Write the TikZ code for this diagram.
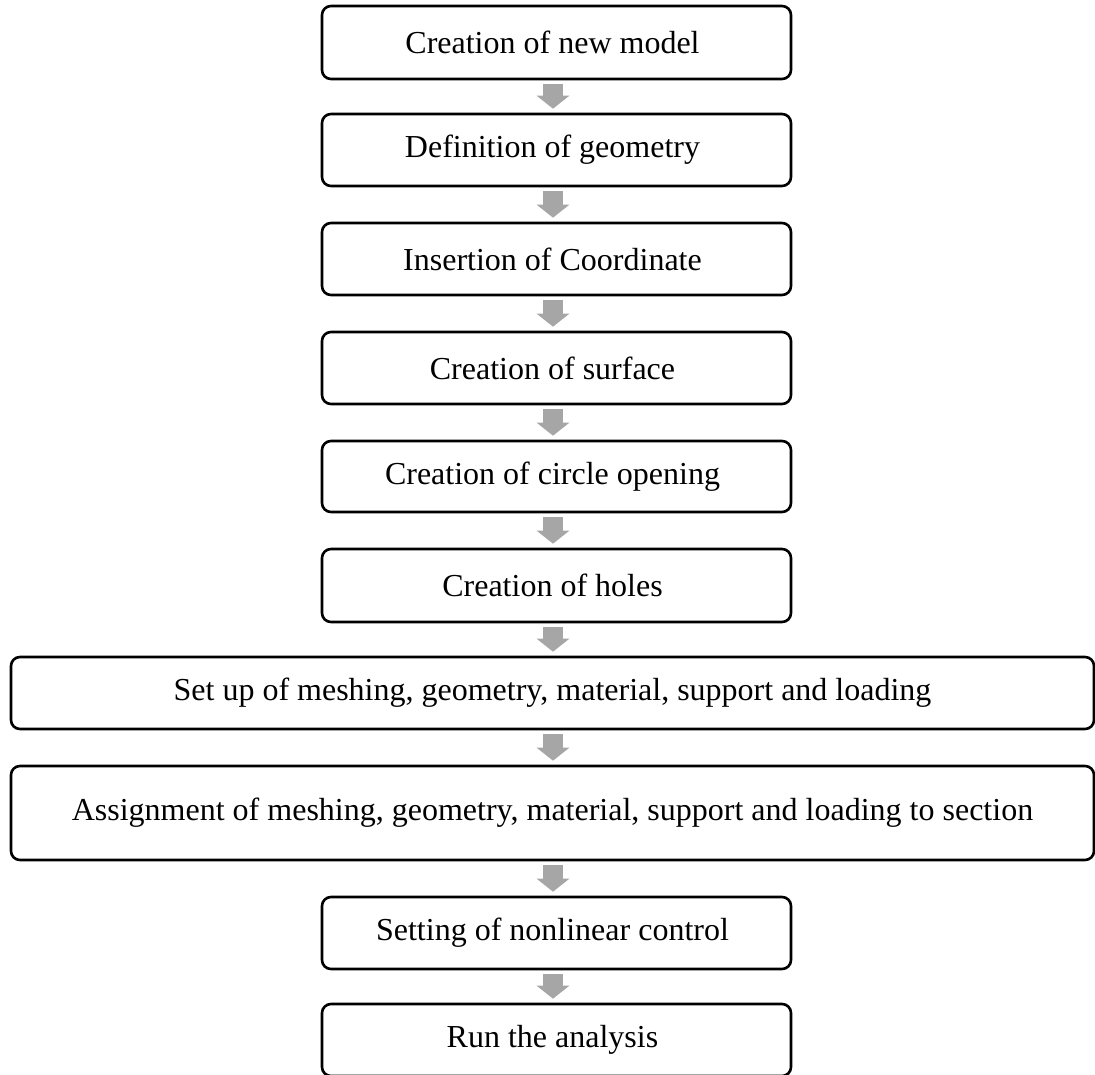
\documentclass[tikz,border=0pt]{standalone}
\usepackage{fontspec}
\setmainfont{Liberation Serif}
\usetikzlibrary{arrows.meta,calc}
\definecolor{arrgray}{HTML}{A6A6A6}
\newcommand{\lft}[1]{#1\kern8pt}
\tikzset{
  stepbox/.style={draw=black, line width=2.6pt, rounded corners=9pt, fill=white,
    minimum width=469pt, minimum height=72pt, inner sep=0pt,
    font=\fontsize{32}{36}\selectfont},
  widebox/.style={stepbox, minimum width=1083pt},
  blockarrow/.style={draw=arrgray, line width=20pt,
    -{Triangle[width=32pt,length=13pt,fill=arrgray]}}
}
\begin{document}
\begin{tikzpicture}[x=1pt,y=-1pt]
\useasboundingbox (0,0) rectangle (1095,1074);
\coordinate (axis) at (553,0);
\node[stepbox, minimum height=73pt] (b1) at (556.5,42.5) {\lft{Creation of new model}};
\node[stepbox] (b2) at (556.5,150) {\lft{Definition of geometry}};
\node[stepbox] (b3) at (556.5,259) {\lft{Insertion of Coordinate}};
\node[stepbox] (b4) at (556.5,368) {\lft{Creation of surface}};
\node[stepbox, minimum height=71pt] (b5) at (556.5,476.5) {\lft{Creation of circle opening}};
\node[stepbox, minimum height=73pt] (b6) at (556.5,585.5) {\lft{Creation of holes}};
\node[widebox] (b7) at (552.5,693) {Set up of meshing, geometry, material, support and loading};
\node[widebox, minimum height=94pt] (b8) at (552.5,813) {Assignment of meshing, geometry, material, support and loading to section};
\node[stepbox] (b9) at (556.5,933) {\lft{Setting of nonlinear control}};
\node[stepbox] (b10) at (556.5,1040) {\lft{Run the analysis}};
\foreach \a/\b in {b1/b2,b2/b3,b3/b4,b4/b5,b5/b6,b6/b7,b7/b8,b8/b9,b9/b10}{
  \draw[blockarrow] ($(\a.south -| axis)+(0,4)$) -- ($(\b.north -| axis)+(0,-4)$);
}
\end{tikzpicture}
\end{document}
